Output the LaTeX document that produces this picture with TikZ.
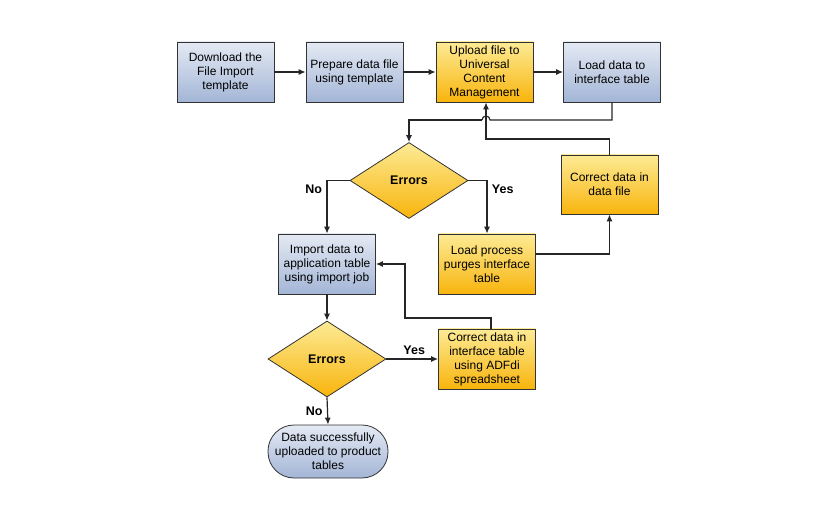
\documentclass[tikz,border=0pt]{standalone}
\usepackage{fontspec}
\setmainfont{Liberation Sans}
\usetikzlibrary{positioning}
\usetikzlibrary{arrows.meta}
\usetikzlibrary{shapes.geometric}
\definecolor{blueTop}{HTML}{E4EAF4}
\definecolor{blueBot}{HTML}{A3B5D6}
\definecolor{yelTop}{HTML}{FDEB95}
\definecolor{yelBot}{HTML}{F8B40C}
\tikzset{
  procbox/.style = {draw=black!80, line width=0.8pt, rectangle, minimum width=97pt, minimum height=60pt,
    align=center, font=\fontsize{12}{14}\selectfont},
  bluebox/.style = {procbox, top color=blueTop, bottom color=blueBot},
  yelbox/.style = {procbox, top color=yelTop, bottom color=yelBot},
  decision/.style = {draw=black!80, line width=0.8pt, diamond, aspect=1.55, inner sep=0pt,
    minimum width=118pt, minimum height=76pt, top color=yelTop, bottom color=yelBot,
    font=\bfseries\fontsize{12.5}{14}\selectfont},
  finish/.style = {procbox, rounded corners=26pt, minimum width=120pt, minimum height=53pt,
    top color=blueTop, bottom color=blueBot},
  answer/.style = {font=\bfseries\fontsize{12.5}{14}\selectfont},
  flow/.style = {line width=1.2pt, draw=black!85, -{Latex[length=7pt,width=6pt]}},
  coord/.style = {coordinate}
}
\begin{document}
\begin{tikzpicture}[x=1pt, y=-1pt]
  \fill[white] (0,0) rectangle (840,518);
  \useasboundingbox (0,0) rectangle (840,518);

  \node [bluebox] (download) at (225.5,72) {Download the\\File Import\\template};
  \node [bluebox] (prepare) at (354.5,72) {Prepare data file\\using template};
  \node [yelbox] (upload) at (484.5,72) {Upload file to\\Universal\\Content\\Management};
  \node [bluebox] (loadif) at (612,72) {Load data to\\interface table};
  \node [decision] (errorsA) at (409,180.5) {Errors};
  \node [yelbox, minimum height=59pt] (fixfile) at (609.5,184.5) {Correct data in\\data file};
  \node [bluebox] (importjob) at (327,264) {Import data to\\application table\\using import job};
  \node [yelbox] (purge) at (487,264) {Load process\\purges interface\\table};
  \node [decision] (errorsB) at (327,359) {Errors};
  \node [yelbox] (fixif) at (487,359) {Correct data in\\interface table\\using ADFdi\\spreadsheet};
  \node [finish] (done) at (328,451.5) {Data successfully\\uploaded to product\\tables};

  \coordinate (hopL) at (482,120);
  \coordinate (hopR) at (490,120);

  \draw [flow] (download) -- (prepare);
  \draw [flow] (prepare) -- (upload);
  \draw [flow] (upload) -- (loadif);
  \draw [line width=1.2pt, draw=black!85] (loadif.south) |- (hopR) arc[start angle=0, end angle=180, radius=4pt];
  \draw [flow] (hopL) -| (errorsA.north);
  \draw [flow] (fixfile.north) |- (486,139) -- (upload.south -| 486,0);
  \draw [flow] (errorsA.west) -| node [answer, pos=0.58, left=1pt] {No} (importjob.north);
  \draw [flow] (errorsA.east) -| node [answer, pos=0.58, right=1pt] {Yes} (purge.north);
  \draw [flow] (purge.east |- 0,254) -| (fixfile.south);
  \draw [flow] (importjob) -- (errorsB);
  \draw [flow] (errorsB.east) -- node [answer, above, xshift=2pt] {Yes} (fixif.west);
  \draw [flow] (fixif.north -| 491,0) |- (405,318) |- (importjob.east);
  \draw [flow] (errorsB.south) -- node [answer, left=1pt] {No} (done.north);
\end{tikzpicture}
\end{document}
